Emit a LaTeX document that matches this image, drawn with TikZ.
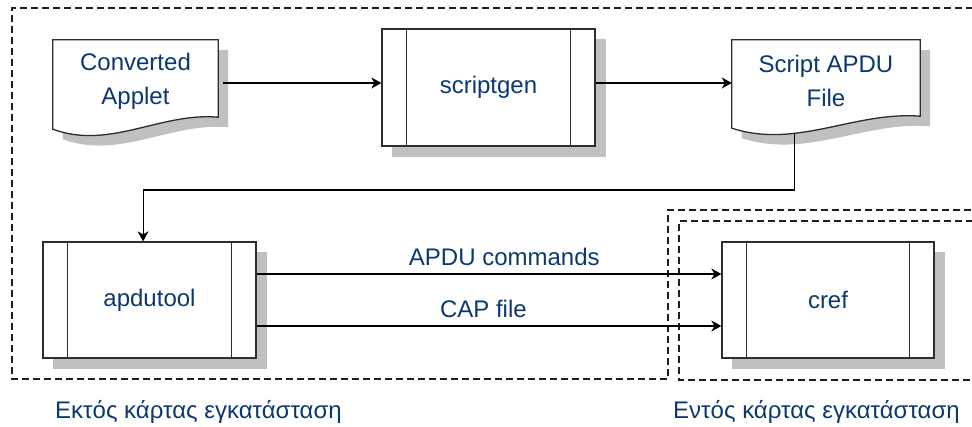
\documentclass[tikz,border=0pt]{standalone}
\usepackage{fontspec}
\setmainfont{Liberation Sans}
\usetikzlibrary{calc,arrows.meta,backgrounds}
\definecolor{txt}{RGB}{12,56,112}
\definecolor{shd}{RGB}{192,192,192}
\definecolor{edge}{RGB}{45,45,45}
\definecolor{regc}{RGB}{30,30,30}
\tikzset{
  lbl/.style={text=txt, font=\fontsize{24}{34}\selectfont},
  procbox/.style={rectangle, draw=edge, line width=1.3pt, fill=white,
    minimum width=213pt, minimum height=117pt, inner sep=0pt, lbl},
  docbox/.style={rectangle, inner sep=0pt, minimum width=165pt,
    minimum height=77pt, lbl, align=center},
  conn/.style={line width=1.1pt, black, -{Stealth[length=10pt,width=11pt,inset=3pt]}},
  region/.style={line width=1.5pt, regc, dash pattern=on 7pt off 4pt},
  innerline/.style={line width=1pt, edge},
  docline/.style={fill=white, draw=edge, line width=1.3pt},
}
\newcommand\docshape[4]{%
  \path[#4] ($(#1.north west)+(#2,#3)$) -- ($(#1.north east)+(#2,#3)$)
    -- ($(#1.south east)+(#2,#3)$)
    .. controls ($(#1.south west)!0.648!(#1.south east)+(#2,#3-5)$)
    and ($(#1.south west)!0.345!(#1.south east)+(#2,#3+33)$)
    .. ($(#1.south west)+(#2,#3+12)$) -- cycle;}
\begin{document}
\begin{tikzpicture}[x=1pt,y=-1pt]
\useasboundingbox (0,0) rectangle (972,427);
\clip (0,0) rectangle (972,427);
% regions
\draw[region] (995,8) -- (12,8) -- (12,379) -- (668,379) -- (668,210) -- (995,210);
\draw[region] (995,221) -- (679,221) -- (679,380) -- (995,380);
% nodes (text nodes of the documents sit 3pt lower than the drawn outline)
\node[docbox] (conv) at (135.5,81.5) {Converted\\Applet};
\node[docbox, minimum width=188pt, minimum height=76pt] (script) at (826,80.5) {Script APDU\\File};
\node[procbox] (sg) at (488.5,87.5) {scriptgen};
\node[procbox, minimum height=116pt] (apdu) at (149.5,300) {apdutool};
\node[procbox, minimum width=212pt, minimum height=116pt] (cref) at (828,300) {cref};
\foreach \n in {sg,apdu,cref}{
  \draw[innerline] ([xshift=25.5pt]\n.north west) -- ([xshift=25.5pt]\n.south west);
  \draw[innerline] ([xshift=-25pt]\n.north east) -- ([xshift=-25pt]\n.south east);
}
\begin{scope}[on background layer]
  \foreach \n in {sg,apdu,cref}{
    \fill[shd] ($(\n.north west)+(10.5,10.5)$) rectangle ($(\n.south east)+(10.5,10.5)$);
  }
  \docshape{conv}{10}{7}{fill=shd}
  \docshape{script}{10}{7.5}{fill=shd}
  \docshape{conv}{0}{-3}{docline}
  \docshape{script}{0}{-2.5}{docline}
\end{scope}
% connectors
\draw[conn] ([xshift=5pt,yshift=-1.5pt]conv.east) coordinate (c1) -- (c1 -| sg.west);
\draw[conn] (sg.east |- c1) -- (script.west |- c1);
\coordinate (sout) at ($(script.south west)+(63,14.5)$);
\coordinate (bendy) at (0,190);
\draw[conn] (sout) -- (sout |- bendy) -| ($(apdu.north west)!0.47!(apdu.north east)$);
\draw[conn] ([yshift=26pt]apdu.east) -- node[pos=0.533, anchor=base, yshift=8pt, lbl, inner sep=0pt]{APDU commands} ([yshift=26pt]cref.west);
\draw[conn] ([yshift=-26pt]apdu.east) -- node[pos=0.488, anchor=base, yshift=8pt, lbl, inner sep=0pt]{CAP file} ([yshift=-26pt]cref.west);
% bottom labels
\node[lbl, anchor=base west, inner sep=0pt] (lout) at (55,419) {Εκτός κάρτας εγκατάσταση};
\node[lbl, anchor=base west, inner sep=0pt] (lin) at (673,419) {Εντός κάρτας εγκατάσταση};
\end{tikzpicture}
\end{document}
